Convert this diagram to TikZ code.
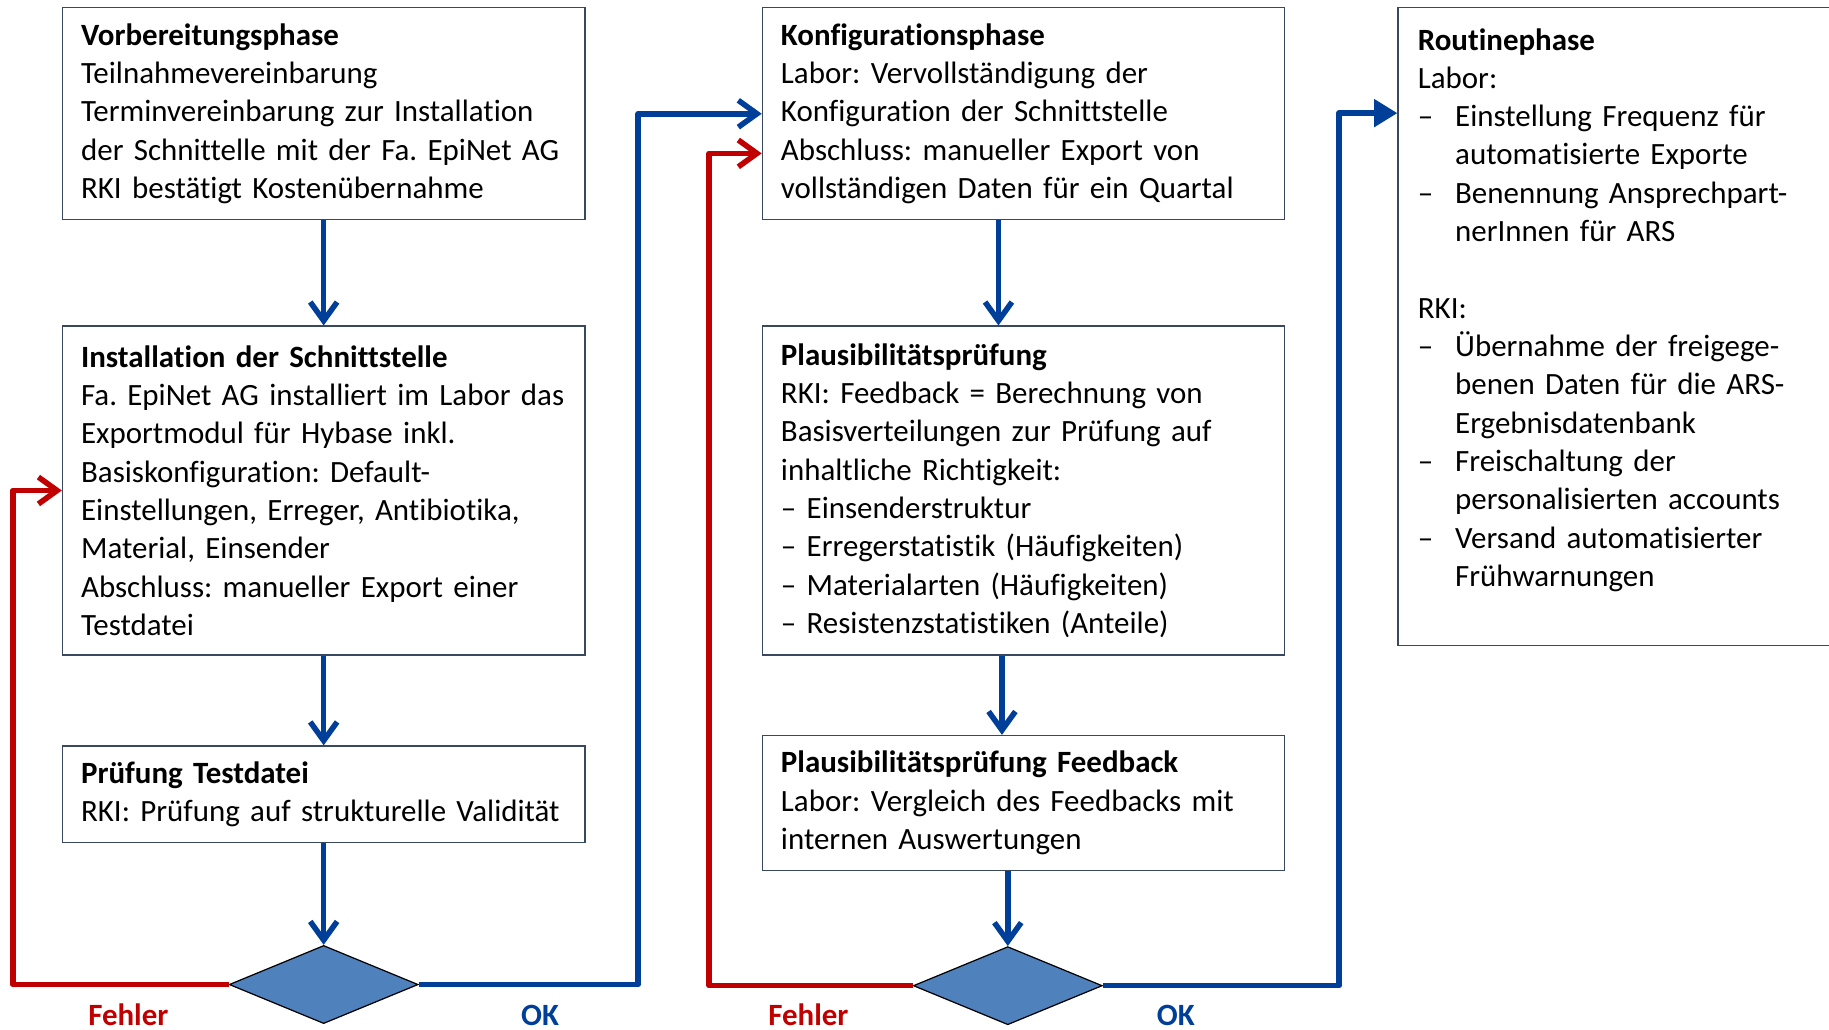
\documentclass[tikz,border=0pt]{standalone}
\usepackage{fontspec}
\setmainfont{Carlito}[Ligatures=NoCommon]
\usepackage{tikz}
\usetikzlibrary{positioning}
\usetikzlibrary{arrows.meta,shapes.geometric}

\definecolor{okblue}{RGB}{0,63,153}
\definecolor{errred}{RGB}{192,0,0}
\definecolor{rautefill}{RGB}{79,129,189}
\definecolor{boxline}{RGB}{56,72,96}

\newcommand{\itm}{\makebox[0.64cm][l]{\textendash}}
\newcommand{\cnt}{\hspace*{0.64cm}}
\frenchspacing

\begin{document}
\begin{tikzpicture}[x=0.02cm,y=-0.02cm,
        font=\fontsize{15.1}{18.7}\selectfont,
        phase/.style={draw=boxline,line width=0.6pt,align=left,text width=8.32cm,
          inner xsep=0.32cm,anchor=north west},
        raute/.style={diamond,draw=black,line width=0.6pt,fill=rautefill,
          minimum width=3.24cm,minimum height=1.34cm,inner sep=0pt},
        flow/.style={draw=okblue,line width=2.7pt,line join=round,
          -{Straight Barb[length=0.32cm,width=0.46cm]}},
        back/.style={flow,draw=errred},
        okflow/.style={flow,-{Triangle[length=0.4cm,width=0.46cm]}},
        oklabel/.style={text=okblue,font=\fontsize{15.1}{18.7}\selectfont\bfseries,anchor=base},
        errlabel/.style={oklabel,text=errred}]

\useasboundingbox (0,0) rectangle (1568,883);

% first column
\node[phase,minimum height=3.64cm] (vorb) at (53,6) {\textbf{Vorbereitungsphase}\\
  Teilnahmevereinbarung\\
  Terminvereinbarung zur Installation\\
  der Schnittelle mit der Fa. EpiNet AG\\
  RKI bestätigt Kostenübernahme};
\node[phase,minimum height=5.64cm] (inst) [below=1.8cm of vorb] {\textbf{Installation der Schnittstelle}\\
  Fa. EpiNet AG installiert im Labor das\\
  Exportmodul für Hybase inkl.\\
  Basiskonfiguration: Default-\\
  Einstellungen, Erreger, Antibiotika,\\
  Material, Einsender\\
  Abschluss: manueller Export einer\\
  Testdatei};
\node[phase,minimum height=1.66cm] (test) [below=1.54cm of inst] {\textbf{Prüfung Testdatei}\\
  RKI: Prüfung auf strukturelle Validität};
\node[raute] (rauteA) [below=1.74cm of test] {};

% second column
\node[phase,minimum height=3.64cm] (konf) at (653,6) {\textbf{Konfigurationsphase}\\
  Labor: Vervollständigung der\\
  Konfiguration der Schnittstelle\\
  Abschluss: manueller Export von\\
  vollständigen Daten für ein Quartal};
\node[phase,minimum height=5.64cm] (plaus) [below=1.8cm of konf] {\textbf{Plausibilitätsprüfung}\\
  RKI: Feedback = Berechnung von\\
  Basisverteilungen zur Prüfung auf\\
  inhaltliche Richtigkeit:\\
  \textendash{} Einsenderstruktur\\
  \textendash{} Erregerstatistik (Häufigkeiten)\\
  \textendash{} Materialarten (Häufigkeiten)\\
  \textendash{} Resistenzstatistiken (Anteile)};
\node[phase,minimum height=2.32cm] (feedb) [below=1.36cm of plaus] {\textbf{Plausibilitätsprüfung Feedback}\\
  Labor: Vergleich des Feedbacks mit\\
  internen Auswertungen};
\node[raute] (rauteB) [below=1.28cm of feedb,xshift=-0.27cm] {};

% third column
\node[phase,minimum height=10.94cm,inner xsep=0.34cm] (rout) at (1198,6) {\textbf{Routinephase}\\
  Labor:\\
  \itm Einstellung Frequenz für\\
  \cnt automatisierte Exporte\\
  \itm Benennung Ansprechpart-\\
  \cnt nerInnen für ARS\\[18.7pt]
  RKI:\\
  \itm Übernahme der freigege-\\
  \cnt benen Daten für die ARS-\\
  \cnt Ergebnisdatenbank\\
  \itm Freischaltung der\\
  \cnt personalisierten accounts\\
  \itm Versand automatisierter\\
  \cnt Frühwarnungen\\
  \mbox{}};

\node[errlabel] (fehlerA) at (110,879) {Fehler};
\node[oklabel] (okA) at (463,879) {OK};
\node[errlabel] (fehlerB) at (693,879) {Fehler};
\node[oklabel] (okB) at (1008,879) {OK};

\draw[flow] (vorb.south) -- (inst.north);
\draw[flow] (inst.south) -- (test.north);
\draw[flow] (test.south) -- (rauteA.north);
\draw[flow] ([xshift=-0.43cm]konf.south) -- ([xshift=-0.43cm]plaus.north);
\draw[flow] ([xshift=-0.37cm]plaus.south) -- ([xshift=-0.37cm]feedb.north);
\draw[flow] (feedb.south -| rauteB.north) -- (rauteB.north);

\draw[back] (rauteA.west) -| ([xshift=-0.84cm]inst.west) -- (inst.west);
\draw[flow] (rauteA.east) -| ([xshift=-2.12cm]konf.west) -- (konf.west);
\draw[back] (rauteB.west) -| ([xshift=-0.9cm,yshift=-0.68cm]konf.west) -- ([yshift=-0.68cm]konf.west);
\draw[okflow] (rauteB.east) -| ([xshift=-1cm,yshift=-1.82cm]rout.north west) -- ([yshift=-1.82cm]rout.north west);

\end{tikzpicture}
\end{document}
